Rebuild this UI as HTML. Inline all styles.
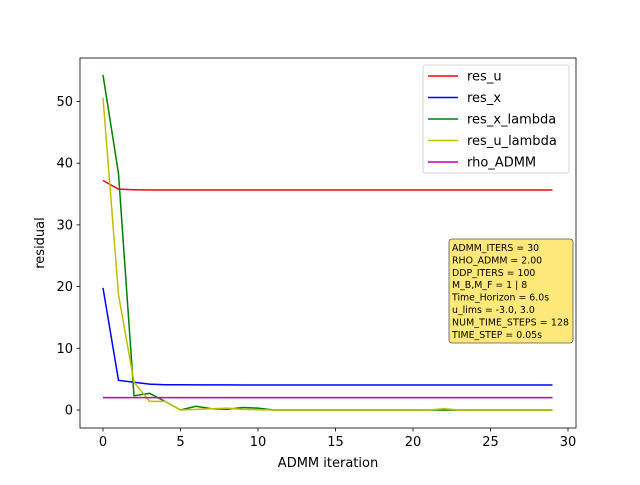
<!DOCTYPE html>
<html><head><meta charset="utf-8"><style>
body{margin:0;background:#fff;}
svg{font-family:"DejaVu Sans","Liberation Sans",sans-serif;}
</style></head><body>
<svg id="c" width="640" height="480"></svg>
<script>
const iters = Array.from({length:30},(_,i)=>i);
const resU = [37.2,35.8,35.7,35.65,35.65,35.65,35.65,35.65,35.65,35.65,35.65,35.65,35.65,35.65,35.65,35.65,35.65,35.65,35.65,35.65,35.65,35.65,35.65,35.65,35.65,35.65,35.65,35.65,35.65,35.65];
const resX = [19.8,4.8,4.5,4.2,4.1,4.1,4.08,4.08,4.08,4.06,4.06,4.06,4.06,4.06,4.06,4.06,4.06,4.06,4.06,4.06,4.06,4.06,4.06,4.06,4.06,4.06,4.06,4.06,4.06,4.06];
const resXL = [54.3,38.3,2.3,2.7,1.4,0,0.6,0.2,0.1,0.4,0.3,0,0,0,0,0,0,0,0,0,0,0,0,0,0,0,0,0,0,0];
const resUL = [50.6,18.7,4.5,1.4,1.4,0,0.1,0.2,0.3,0.1,0.05,0,0,0,0,0,0,0,0,0,0,0,0.2,0,0,0,0,0,0,0];
const rho = Array(30).fill(2.0);
const xTicks=[0,5,10,15,20,25,30], yTicks=[0,10,20,30,40,50];
const series=[["res_u",resU,"#ff0000"],["res_x",resX,"#0000ff"],["res_x_lambda",resXL,"#008000"],["res_u_lambda",resUL,"#bfbf00"],["rho_ADMM",rho,"#bf00bf"]];
const info=["ADMM_ITERS = 30","RHO_ADMM = 2.00","DDP_ITERS = 100","M_B,M_F = 1 | 8","Time_Horizon = 6.0s","u_lims = -3.0, 3.0","NUM_TIME_STEPS = 128","TIME_STEP = 0.05s"];
const L=80,R=576,T=58,B=428;
const sx=v=>103+v*15.5, sy=v=>410-v*6.17;
const svg=document.getElementById('c');const NS="http://www.w3.org/2000/svg";
function mk(t,a,p){const e=document.createElementNS(NS,t);for(const k in a)e.setAttribute(k,a[k]);(p||svg).appendChild(e);return e;}
series.forEach(([n,d,c])=>{
 const p=mk('polyline',{points:d.map((v,i)=>sx(iters[i])+','+sy(v)).join(' '),fill:'none',stroke:c,'stroke-width':1.5});
 
 
});
const fr=mk('rect',{x:L,y:T,width:R-L,height:B-T,fill:'none',stroke:'#000','stroke-width':0.8});


xTicks.forEach(t=>{const x=sx(t);mk('line',{x1:x,x2:x,y1:B,y2:B+3.5,stroke:'#000','stroke-width':0.8});
 const e=mk('text',{x:x,y:B+18,'text-anchor':'middle','font-size':13});e.textContent=t;
 
 });
yTicks.forEach(t=>{const y=sy(t);mk('line',{x1:L,x2:L-3.5,y1:y,y2:y,stroke:'#000','stroke-width':0.8});
 const e=mk('text',{x:L-7,y:y+4.5,'text-anchor':'end','font-size':13});e.textContent=t;
 
 });
let e=mk('text',{x:328,y:467,'text-anchor':'middle','font-size':13});e.textContent='ADMM iteration';


e=mk('text',{x:44,y:243,'text-anchor':'middle','font-size':13,transform:'rotate(-90 44 243)'});e.textContent='residual';


const lg=mk('g',{});


mk('rect',{x:423,y:65,width:146,height:108,rx:2,fill:'#fff',stroke:'#ccc','stroke-width':0.8},lg);
series.forEach(([n,d,c],i)=>{const y=76+i*21.5;
 mk('line',{x1:428,x2:458,y1:y,y2:y,stroke:c,'stroke-width':1.5},lg);
 const t=mk('text',{x:467,y:y+4.5,'font-size':13},lg);t.textContent=n;
 
 });
const ib=mk('g',{});


mk('rect',{x:449,y:239,width:124,height:104,rx:3,fill:'#ffe87a',stroke:'#555','stroke-width':0.8},ib);
info.forEach((s,i)=>{const t=mk('text',{x:452,y:251+i*12.4,'font-size':9.4},ib);t.textContent=s;
 if(s.length===20) t.setAttribute('textLength','117');
 
 });
</script>
</body></html>
